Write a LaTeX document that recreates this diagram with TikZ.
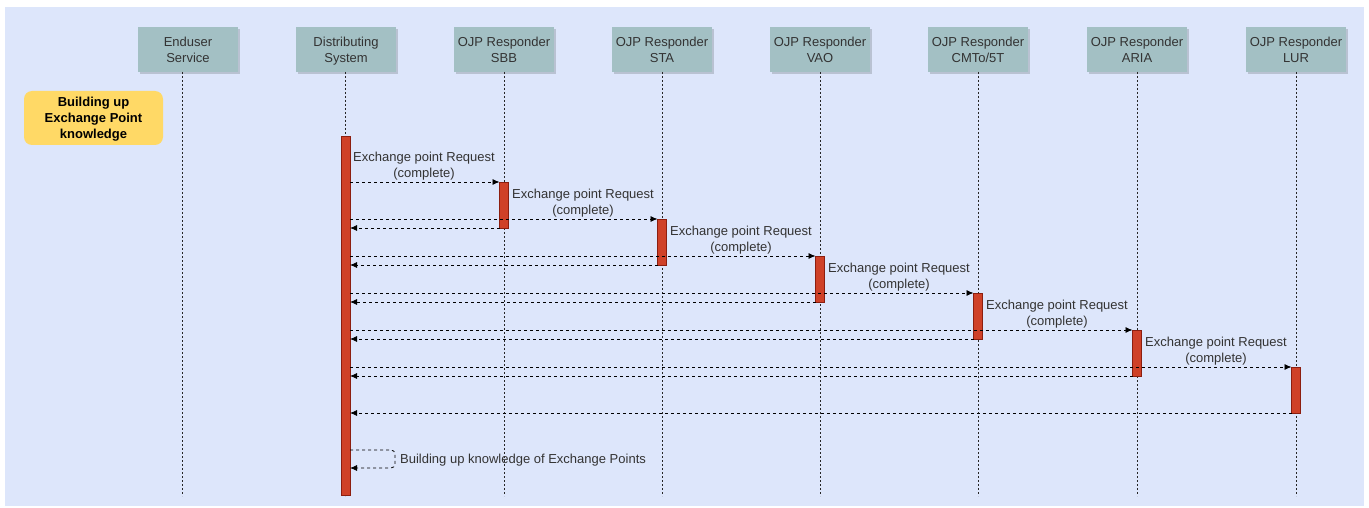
\documentclass[tikz,border=0pt]{standalone}
\usepackage{fontspec}
\setmainfont{Liberation Sans}
\usetikzlibrary{arrows.meta}
\definecolor{bgblue}{RGB}{221,230,251}
\definecolor{headfill}{RGB}{163,192,196}
\definecolor{headshadow}{RGB}{150,160,170}
\definecolor{barfill}{RGB}{207,65,40}
\definecolor{barline}{RGB}{140,30,15}
\definecolor{notefill}{RGB}{255,217,102}
\definecolor{txt}{RGB}{51,51,51}
\tikzset{
  x=1pt, y=-1pt,
  fnt/.style={font=\fontsize{13}{16}\selectfont, text=txt},
  head/.style={fill=headfill, minimum width=100pt, minimum height=45pt, inner sep=0pt},
  headtxt/.style={fnt, align=center, inner sep=0pt},
  headshad/.style={fill=headshadow, opacity=0.5, minimum width=100pt, minimum height=45pt, inner sep=0pt},
  life/.style={draw=black!85, line width=0.9pt, dash pattern=on 2pt off 2pt},
  actbar/.style={fill=barfill, draw=barline, line width=0.6pt},
  msg/.style={draw=black, line width=0.8pt, dash pattern=on 3pt off 3pt, -{Latex[length=7pt,width=6pt]}},
  msglabel/.style={fnt, align=center, inner sep=0pt},
}
\begin{document}
\begin{tikzpicture}
\useasboundingbox (0,0) rectangle (1369,508);
\fill[white] (0,0) rectangle (1369,508);
\fill[bgblue] (5,7) rectangle (1364,506);

% header boxes
\foreach \bx/\lx/\name/\ta/\tb in {188/182/eu/Enduser/Service, 346/345/ds/Distributing/System, 504/504/sbb/OJP Responder/SBB, 662/662/sta/OJP Responder/STA, 820/820/vao/OJP Responder/VAO, 978/978/cmt/OJP Responder/CMTo\slash 5T, 1137/1137/aria/OJP Responder/ARIA, 1296/1296/lur/OJP Responder/LUR}{
  \node[headshad] at (\bx+2,51.5) {};
  \node[head] (h\name) at (\bx,49.5) {};
  \node[headtxt] (t\name) at (\bx,51) {\strut\ta\\\strut\tb};
  \coordinate (top\name) at (\lx,72);
  \coordinate (bot\name) at (\lx,496);
  \draw[life] (top\name) -- (bot\name);
}

% note
\node[fill=notefill, rounded corners=8pt, minimum width=139pt, minimum height=54pt, inner sep=0pt] (note) at (93.5,118) {};
\node[align=center, inner sep=0pt, font=\bfseries\fontsize{13}{16}\selectfont, text=black] (notetxt) at (93.5,119.5) {\strut Building up\\\strut Exchange Point\\\strut knowledge};

% activation bars
\draw[actbar] (341,136) rectangle (350,495);
\foreach \name/\x/\y in {sbb/504/182, sta/662/219, vao/820/256, cmt/978/293, aria/1137/330, lur/1296/367}{
  \draw[actbar] (\x-4.5,\y) rectangle (\x+4.5,\y+46);
}

% messages
\coordinate (s0) at (350,182);
\coordinate (e0) at (499.5,182);
\draw[msg] (s0) -- (e0);
\node[msglabel] (l0) at (424,166.5) {\strut Exchange point Request\\\strut(complete)};

\foreach \i/\x/\y/\lx in {1/662/219/583, 2/820/256/741, 3/978/293/899, 4/1137/330/1057, 5/1296/367/1216}{
  \coordinate (s\i) at (350,\y);
  \coordinate (e\i) at (\x-4.5,\y);
  \draw[msg] (s\i) -- (e\i);
  \node[msglabel] (l\i) at (\lx,\y-15.5) {\strut Exchange point Request\\\strut(complete)};
}

% returns
\foreach \x/\y in {504/228, 662/265, 820/302, 978/339, 1137/376, 1296/413}{
  \coordinate (rs) at (\x-4.5,\y);
  \coordinate (re) at (350,\y);
  \draw[msg] (rs) -- (re);
}

% self loop
\coordinate (ls) at (350,450);
\coordinate (le) at (350,468);
\draw[msg, rounded corners=4pt] (ls) -- (395,450) -- (395,468) -- (le);
\node[fnt, anchor=west, inner sep=0pt] (selflbl) at (400,460) {Building up knowledge of Exchange Points};
\end{tikzpicture}
\end{document}
